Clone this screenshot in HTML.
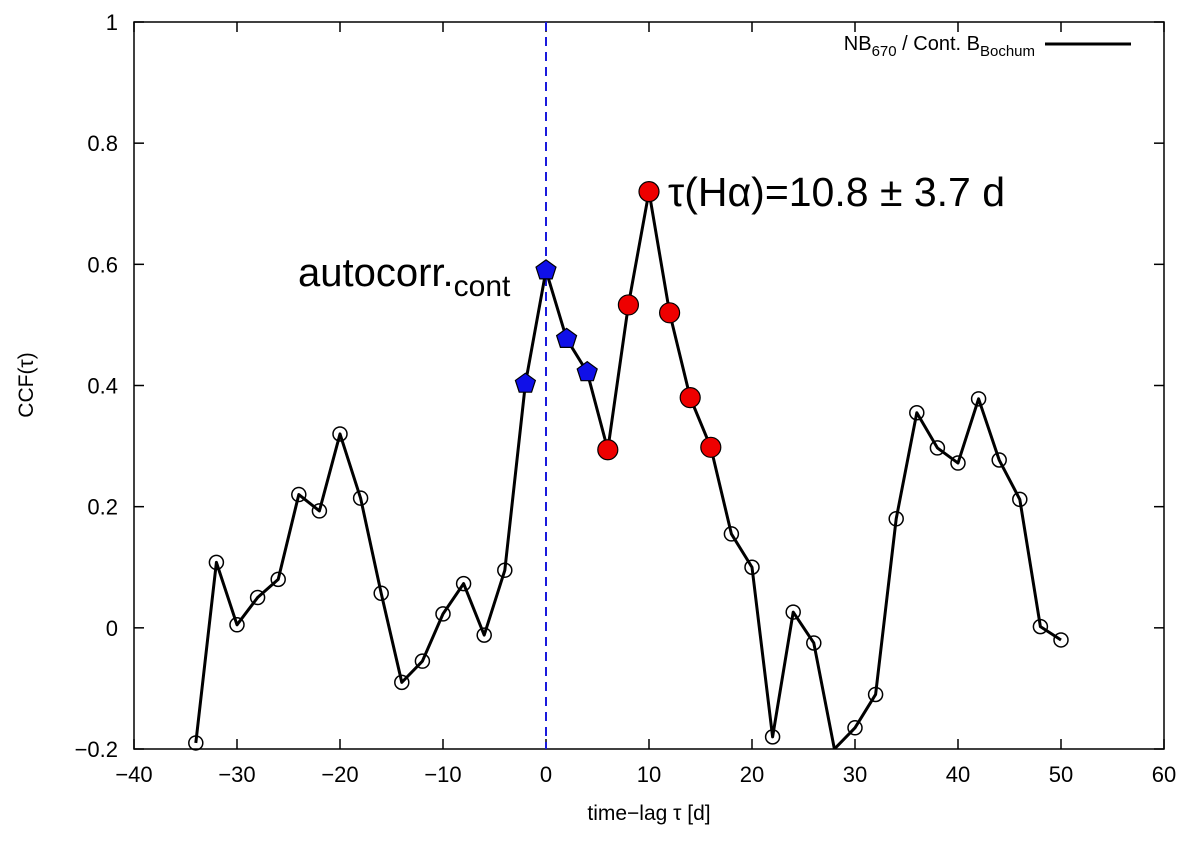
<!DOCTYPE html>
<html><head><meta charset="utf-8"><style>
body{margin:0;background:#fff}
svg text{font-family:"Liberation Sans",sans-serif;fill:#000}
</style></head><body>
<svg id="chart" width="1200" height="839" xmlns="http://www.w3.org/2000/svg">
<defs><clipPath id="clip"><rect x="134" y="22" width="1030" height="727"/></clipPath></defs>
<g id="axes"></g>
<g id="series" clip-path="url(#clip)"></g>
<g id="marks"></g>
<text transform="translate(33,385) rotate(-90)" text-anchor="middle" font-size="21">CCF(τ)</text>
<text x="649" y="820" text-anchor="middle" font-size="21">time−lag τ [d]</text>
<g>
<text x="1035" y="50" text-anchor="end" font-size="20">NB<tspan font-size="15" dy="6">670</tspan><tspan dy="-6"> / Cont. B</tspan><tspan font-size="15" dy="6">Bochum</tspan></text>
<line x1="1045" y1="44" x2="1131" y2="44" stroke="#000" stroke-width="3"/>
</g>
<text x="298" y="286" font-size="40">autocorr.<tspan font-size="30" dy="10">cont</tspan></text>
<text x="668" y="206" font-size="41">τ(Hα)=10.8 ± 3.7 d</text>
</svg>
<script>
const lags=[-34,-32,-30,-28,-26,-24,-22,-20,-18,-16,-14,-12,-10,-8,-6,-4,-2,0,2,4,6,8,10,12,14,16,18,20,22,24,26,28,30,32,34,36,38,40,42,44,46,48,50];
const ccf=[-0.19,0.108,0.005,0.05,0.08,0.22,0.193,0.32,0.214,0.057,-0.09,-0.055,0.023,0.073,-0.012,0.095,0.403,0.59,0.477,0.422,0.294,0.533,0.72,0.52,0.38,0.298,0.155,0.1,-0.18,0.026,-0.025,-0.2,-0.165,-0.11,0.18,0.355,0.297,0.272,0.378,0.277,0.212,0.002,-0.02];
const blueLags=[-2,0,2,4];
const redLags=[6,8,10,12,14,16];
const xTicks=[-40,-30,-20,-10,0,10,20,30,40,50,60];
const yTicks=[-0.2,0,0.2,0.4,0.6,0.8,1];
const yLabels=["−0.2","0","0.2","0.4","0.6","0.8","1"];
const xLabels=["−40","−30","−20","−10","0","10","20","30","40","50","60"];
const L=134,R=1164,T=22,B=749;
const X=v=>L+(v+40)/100*(R-L);
const Y=v=>B-(v+0.2)/1.2*(B-T);
const NS="http://www.w3.org/2000/svg";
function mk(p,tag,at){const e=document.createElementNS(NS,tag);for(const k in at)e.setAttribute(k,at[k]);p.appendChild(e);return e;}
const ax=document.getElementById('axes');
const frame=mk(ax,'rect',{x:L,y:T,width:R-L,height:B-T,fill:'none',stroke:'#000','stroke-width':1.5});


xTicks.forEach((v,i)=>{
 const t1=mk(ax,'line',{x1:X(v),x2:X(v),y1:B,y2:B-10,stroke:'#000','stroke-width':1.5});
 
 
 const t2=mk(ax,'line',{x1:X(v),x2:X(v),y1:T,y2:T+10,stroke:'#000','stroke-width':1.5});
 
 
 const tx=mk(ax,'text',{x:X(v),y:B+33,'text-anchor':'middle','font-size':22});tx.textContent=xLabels[i];
 
 
});
yTicks.forEach((v,i)=>{
 const t1=mk(ax,'line',{x1:L,x2:L+10,y1:Y(v),y2:Y(v),stroke:'#000','stroke-width':1.5});
 
 
 const t2=mk(ax,'line',{x1:R,x2:R-10,y1:Y(v),y2:Y(v),stroke:'#000','stroke-width':1.5});
 
 
 const tx=mk(ax,'text',{x:L-16,y:Y(v)+8,'text-anchor':'end','font-size':22});tx.textContent=yLabels[i];
 
 
});
const zl=mk(ax,'line',{x1:X(0),x2:X(0),y1:T,y2:B,stroke:'#1a1adc','stroke-width':2,'stroke-dasharray':'9,6'});


const s=document.getElementById('series');
const pl=mk(s,'polyline',{points:lags.map((l,i)=>X(l)+','+Y(ccf[i])).join(' '),fill:'none',stroke:'#000','stroke-width':3,'stroke-linejoin':'round'});


const m=document.getElementById('marks');
lags.forEach((l,i)=>{
 const x=X(l),y=Y(ccf[i]);
 if(y>B-2)return;
 if(blueLags.includes(l)){
  const r=10.5,pts=[];for(let k=0;k<5;k++){const a=-Math.PI/2+k*2*Math.PI/5;pts.push((x+r*Math.cos(a))+','+(y+r*Math.sin(a)));}
  const p=mk(m,'polygon',{points:pts.join(' '),fill:'#1010e8',stroke:'#000','stroke-width':1.2});
  
  
 } else if(redLags.includes(l)){
  const c=mk(m,'circle',{cx:x,cy:y,r:10,fill:'#ee0000',stroke:'#000','stroke-width':1.2});
  
  
 } else {
  const c=mk(m,'circle',{cx:x,cy:y,r:7,fill:'none',stroke:'#000','stroke-width':1.5});
  
  
 }
});
</script>
</body></html>
